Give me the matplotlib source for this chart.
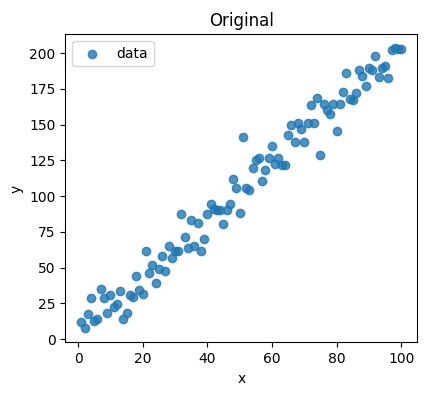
import matplotlib
matplotlib.use("Agg")
import matplotlib.pyplot as plt
import numpy as np

# x runs 1..100, y
x = np.arange(1, 101)
y = np.array([
    12.1, 7.5, 17.5, 28.7, 12.6, 14.2, 35.0, 28.5, 18.4, 30.8,
    22.6, 24.5, 33.4, 13.8, 18.0, 31.0, 29.2, 44.0, 34.5, 31.3,
    61.3, 46.6, 51.7, 39.2, 49.4, 58.0, 47.5, 65.0, 57.1, 61.7,
    61.5, 87.4, 71.1, 63.4, 83.0, 65.0, 80.9, 61.5, 70.0, 87.4,
    94.2, 90.7, 90.0, 90.0, 80.4, 90.4, 94.4, 111.9, 106.0, 87.9,
    141.0, 105.4, 104.0, 119.4, 125.4, 126.8, 110.5, 118.0, 126.6, 135.0,
    122.2, 127.0, 121.7, 121.5, 143.0, 150.0, 138.0, 150.8, 146.6, 138.0,
    150.8, 164.0, 150.8, 168.3, 128.7, 164.3, 160.3, 157.5, 164.5, 145.2,
    164.5, 173.0, 185.8, 167.6, 167.1, 172.0, 188.5, 184.3, 177.3, 189.8,
    188.1, 198.0, 183.4, 189.3, 191.1, 182.3, 202.1, 203.3, 202.8, 202.8,
])

fig, ax = plt.subplots(figsize=(4.24, 3.95), dpi=100)
ax.scatter(x, y, color="#1f77b4", alpha=0.8, label="data")
ax.set_title("Original")
ax.set_xlabel("x")
ax.set_ylabel("y")
ax.legend(loc="upper left")
fig.subplots_adjust(left=0.154, right=0.984, top=0.913, bottom=0.133)
fig.savefig("out.png", dpi=100)
